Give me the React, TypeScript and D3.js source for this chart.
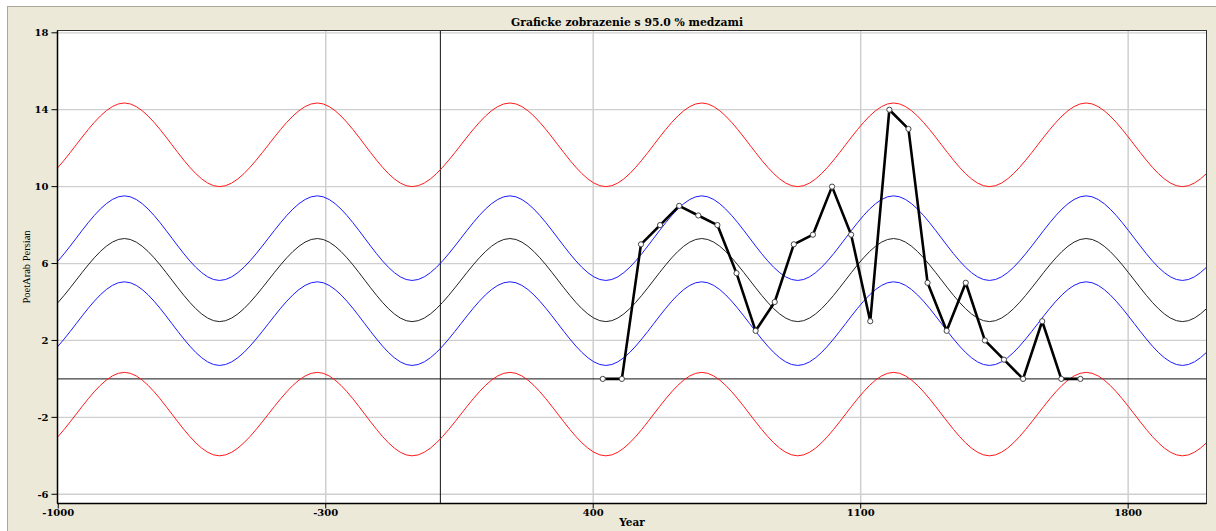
import React from 'react';
import * as d3 from 'd3';

const W = 1216;
const H = 531;

// observed series (year -> value)
const years = [425, 475, 525, 575, 625, 675, 725, 775, 825, 875, 925, 975, 1025, 1075, 1125, 1175, 1225, 1275, 1325, 1375, 1425, 1475, 1525, 1575, 1625, 1675];
const values = [0, 0, 7, 8, 9, 8.5, 8, 5.5, 2.5, 4, 7, 7.5, 10, 7.5, 3, 14, 13, 5, 2.5, 5, 2, 1, 0, 3, 0, 0];

const xTicks = [-1000, -300, 400, 1100, 1800];
const yTicks = [-6, -2, 2, 6, 10, 14, 18];

// years of the wave's turning points (peak, trough, peak, ...)
const waveYears = [-1331, -1079, -827, -578, -322, -74, 182, 433, 684, 935, 1186, 1437, 1690, 1942, 2194, 2446];

// each band: value at the peaks and at the troughs
const waveNames = ['redUpper', 'blueUpper', 'centre', 'blueLower', 'redLower'];
const wavePeaks = [14.35, 9.52, 7.3, 5.05, 0.34];
const waveTroughs = [10.0, 5.12, 2.98, 0.7, -4.0];
const waveColors = ['#ff1a1a', '#1a1aff', '#222222', '#1a1aff', '#ff1a1a'];

const PL = 57.5, PR = 1206.5, PT = 30.5, PB = 503.5;

export default function App() {
  const x = d3.scaleLinear().domain([-1002, 2005]).range([PL, PR]);
  const y = d3.scaleLinear().domain([-6.48, 18.12]).range([PB, PT]);

  const waveLine = d3.line<[number, number]>()
    .x(d => x(d[0]))
    .y(d => y(d[1]))
    .curve(d3.curveMonotoneX);

  const dataLine = d3.line<number>()
    .x((d, i) => x(years[i]))
    .y(d => y(d));

  const labelFont = 'DejaVu Serif, serif';

  return (
    <div style={{ position: 'absolute', left: 0, top: 0 }}>
      <svg width={W} height={H} style={{ display: 'block' }}>
        <defs>
          <clipPath id="plot">
            <rect x={PL} y={PT} width={PR - PL} height={PB - PT} />
          </clipPath>
        </defs>
        <rect x={0} y={0} width={W} height={H} fill="#ffffff" />
        <rect x={7.5} y={6.5} width={W} height={H} fill="#ece9d8" stroke="#aca899" />
        <rect x={PL} y={PT} width={PR - PL} height={PB - PT} fill="#ffffff" />

        {/* grid */}
        {yTicks.map(t => (
          <line key={'gy' + t} x1={PL} x2={PR} y1={y(t)} y2={y(t)} stroke="#cfcfcf" strokeWidth={1.3} />
        ))}
        {xTicks.slice(1).map(t => (
          <line key={'gx' + t} x1={x(t)} x2={x(t)} y1={PT} y2={PB} stroke="#cfcfcf" strokeWidth={1.5} />
        ))}

        {/* zero lines */}
        <line x1={PL} x2={PR} y1={y(0)} y2={y(0)} stroke="#111" strokeWidth={1} />
        <line x1={x(0)} x2={x(0)} y1={PT} y2={PB} stroke="#111" strokeWidth={1} />

        <g clipPath="url(#plot)">
          {waveNames.map((n, k) => (
            <path
              key={n}
              d={waveLine(waveYears.map((yr, i) => [yr, i % 2 === 0 ? wavePeaks[k] : waveTroughs[k]] as [number, number])) || ''}
              fill="none"
              stroke={waveColors[k]}
              strokeWidth={1}
            />
          ))}
          <path d={dataLine(values) || ''} fill="none" stroke="#000" strokeWidth={2.6} strokeLinejoin="round" />
          {values.map((v, i) => (
            <circle key={i} cx={x(years[i])} cy={y(v)} r={2.6} fill="#fff" stroke="#444" strokeWidth={1} />
          ))}
        </g>

        {/* frame */}
        <rect x={PL} y={PT} width={PR - PL} height={PB - PT} fill="none" stroke="#333" strokeWidth={1} />
        <line x1={PL} x2={PL} y1={PT} y2={PB} stroke="#000" strokeWidth={1.5} />
        <line x1={PL} x2={PR} y1={PB} y2={PB} stroke="#000" strokeWidth={1.5} />

        {/* y axis */}
        {yTicks.map(t => (
          <g key={'ty' + t}>
            <line x1={PL - 6} x2={PL} y1={y(t)} y2={y(t)} stroke="#000" />
            <text x={PL - 9} y={y(t) + 3.5} textAnchor="end" fontFamily={labelFont} fontWeight="bold" fontSize={10}>{t}</text>
          </g>
        ))}
        {/* x axis */}
        {xTicks.map(t => (
          <g key={'tx' + t}>
            <line x1={x(t)} x2={x(t)} y1={PB} y2={PB + 5} stroke="#000" />
            <text x={x(t)} y={516} textAnchor="middle" fontFamily={labelFont} fontWeight="bold" fontSize={10}>{t}</text>
          </g>
        ))}

        <text x={(PL + PR) / 2} y={526} textAnchor="middle" fontFamily={labelFont} fontWeight="bold" fontSize={10.5}>Year</text>
        <text transform={`translate(30, ${(PT + PB) / 2}) rotate(-90)`} textAnchor="middle" fontFamily="Liberation Serif, serif" fontSize={10.5}>PoetArab Persian</text>
        <text x={627} y={25.5} textAnchor="middle" fontFamily={labelFont} fontWeight="bold" fontSize={10.8}>Graficke zobrazenie s 95.0 % medzami</text>
      </svg>
    </div>
  );
}
